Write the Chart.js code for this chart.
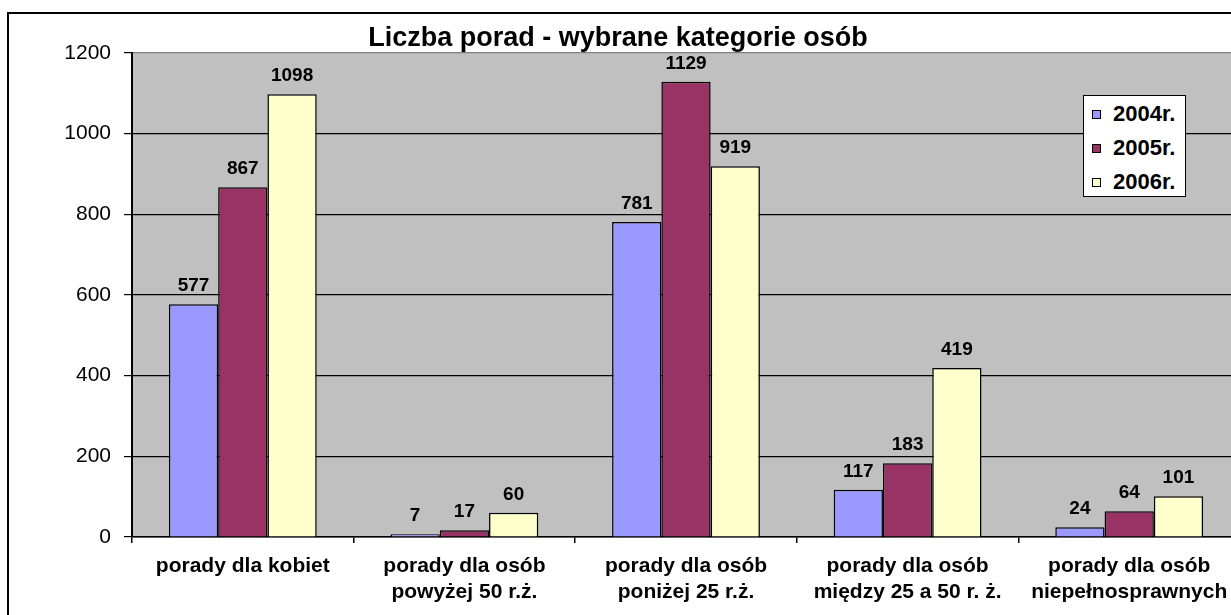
<!DOCTYPE html>
<html>
<head>
<meta charset="utf-8">
<script src="https://cdn.jsdelivr.net/npm/chart.js"></script>
<style>
    body { margin: 0; overflow: hidden; background: #fff; font-family: Arial, "Liberation Sans", sans-serif; }
    #frame { position: absolute; left: 7px; top: 12px; width: 1300px; height: 700px; border: 2px solid #000; box-sizing: border-box; }
    #wrap { position: absolute; left: 0; top: 0; width: 1250px; height: 615px; }
    #title { position: absolute; left: 0; top: 24px; width: 1236px; text-align: center; font: bold 27px Arial, "Liberation Sans", sans-serif; line-height: 27px; }
    #legend { position: absolute; left: 1083px; top: 95px; width: 103px; height: 102px; box-sizing: border-box; background: #fff; border: 1px solid #000; padding-top: 1px; }
    .row { height: 34px; display: flex; align-items: center; font: bold 22px Arial, "Liberation Sans", sans-serif; }
    .sw { width: 9px; height: 9px; border: 1px solid #000; box-sizing: border-box; margin-left: 8px; margin-right: 12px; }
</style>
</head>
<body>
<div id="frame"></div>
<div id="wrap"><canvas id="chart"></canvas></div>
<div id="title">Liczba porad - wybrane kategorie osób</div>
<div id="legend"></div>
<script>
// categories (multi-line labels) and yearly values
const categories = [
    ['porady dla kobiet'],
    ['porady dla osób', 'powyżej 50 r.ż.'],
    ['porady dla osób', 'poniżej 25 r.ż.'],
    ['porady dla osób', 'między 25 a 50 r. ż.'],
    ['porady dla osób', 'niepełnosprawnych']
];
const seriesNames = ['2004r.', '2005r.', '2006r.'];
const values2004 = [577, 7, 781, 117, 24];
const values2005 = [867, 17, 1129, 183, 64];
const values2006 = [1098, 60, 919, 419, 101];
const yTicks = [0, 200, 400, 600, 800, 1000, 1200];

const colors = ['#9999FF', '#993366', '#FFFFCC'];
const allValues = [values2004, values2005, values2006];

// legend built from the series
const legendDiv = document.getElementById('legend');
seriesNames.forEach((name, i) => {
    legendDiv.innerHTML += `<div class="row"><div class="sw" style="background:${colors[i]}"></div><span>${name}</span></div>`;
});

// grey plot background
const plotBg = {
    id: 'plotBg',
    beforeDraw(chart) {
        const { ctx, chartArea } = chart;
        ctx.save();
        ctx.fillStyle = '#C0C0C0';
        ctx.fillRect(chartArea.left, chartArea.top, chartArea.right - chartArea.left, chartArea.bottom - chartArea.top);
        ctx.restore();
    }
};

// value labels above the bars
const valueLabels = {
    id: 'valueLabels',
    afterDatasetsDraw(chart) {
        const ctx = chart.ctx;
        ctx.save();
        ctx.font = 'bold 19px Arial, "Liberation Sans", sans-serif';
        ctx.fillStyle = '#000';
        ctx.textAlign = 'center';
        ctx.textBaseline = 'alphabetic';
        chart.data.datasets.forEach((ds, i) => {
            chart.getDatasetMeta(i).data.forEach((bar, j) => {
                ctx.fillText(ds.data[j], bar.x, bar.y - 13);
            });
        });
        ctx.restore();
    }
};

const ctx = document.getElementById('chart').getContext('2d');
const chart = new Chart(ctx, {
    type: 'bar',
    data: {
        labels: categories,
        datasets: seriesNames.map((name, i) => ({
            label: name,
            data: allValues[i],
            backgroundColor: colors[i],
            borderColor: '#000',
            borderWidth: 1.5,
            categoryPercentage: 0.667,
            barPercentage: 1.0
        }))
    },
    options: {
        responsive: true,
        maintainAspectRatio: false,
        animation: false,
        layout: { padding: { top: 53, right: 10, bottom: 0, left: 0 } },
        plugins: {
            legend: { display: false },
            title: { display: false },
            tooltip: { enabled: false }
        },
        scales: {
            x: {
                offset: true,
                afterFit: scale => { scale.height = 78; },
                grid: { drawOnChartArea: false, drawTicks: true, tickLength: 6, color: '#000', lineWidth: 1.5 },
                border: { color: '#000', width: 1.5 },
                ticks: {
                    padding: 11,
                    color: '#000',
                    maxRotation: 0,
                    autoSkip: false,
                    font: { family: 'Arial, "Liberation Sans", sans-serif', size: 21, weight: 'bold', lineHeight: 1.2 }
                }
            },
            y: {
                min: 0,
                max: 1200,
                afterFit: scale => { scale.width = 132; },
                afterBuildTicks: scale => { scale.ticks = yTicks.map(v => ({ value: v })); },
                grid: {
                    color: c => (c.tick && c.tick.value === 1200 ? '#808080' : '#000'),
                    tickColor: '#000',
                    lineWidth: 1.2,
                    tickLength: 8
                },
                border: { color: '#000', width: 2 },
                ticks: {
                    padding: 13,
                    color: '#000',
                    callback: v => String(v),
                    font: { family: 'Arial, "Liberation Sans", sans-serif', size: 21 }
                }
            }
        }
    },
    plugins: [plotBg, valueLabels]
});
</script>
</body>
</html>
